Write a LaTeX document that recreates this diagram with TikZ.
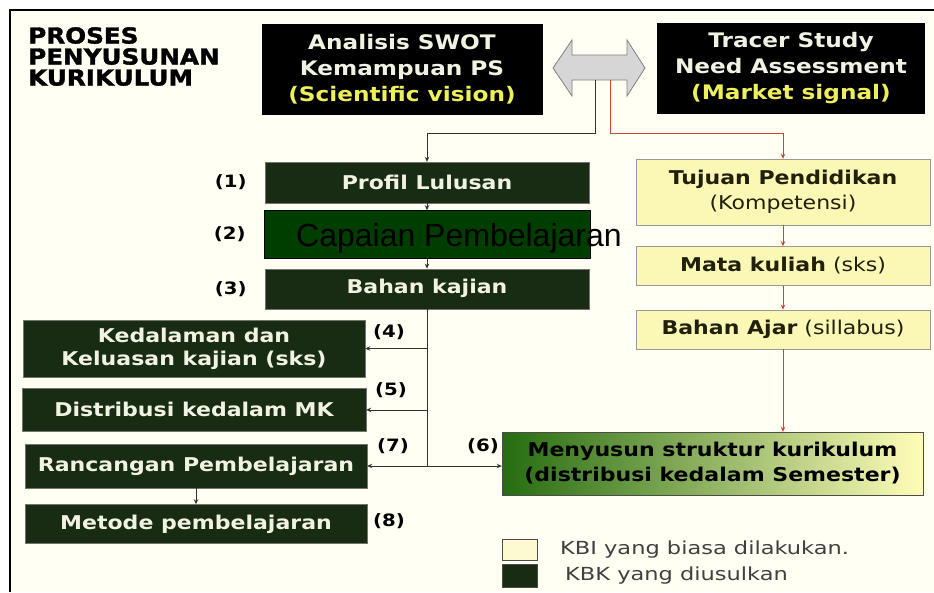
\documentclass[tikz,border=0pt]{standalone}
\usepackage{fontspec}
\newfontfamily\vfont[FakeStretch=1.16]{DejaVu Sans}
\newfontfamily\tfont[FakeStretch=1.12, RawFeature={embolden=1.6}]{DejaVu Sans Bold}
\newfontfamily\lgfont[FakeStretch=1.25]{DejaVu Sans}
\newfontfamily\arfont{Liberation Sans}
\usetikzlibrary{arrows.meta,positioning}
\definecolor{cream}{RGB}{255,255,243}
\definecolor{kbkgreen}{RGB}{24,44,20}
\definecolor{cpgreen}{RGB}{0,62,0}
\definecolor{kbiyellow}{RGB}{251,247,180}
\definecolor{kbitext}{RGB}{32,32,12}
\definecolor{boxwhite}{RGB}{242,242,228}
\definecolor{visyellow}{RGB}{238,240,90}
\definecolor{redline}{RGB}{205,70,50}
\definecolor{menygreen}{RGB}{38,108,16}
\definecolor{menymid}{RGB}{200,208,70}
\definecolor{menyyellow}{RGB}{255,253,185}

\begin{document}
\begin{tikzpicture}[x=1pt, y=-1pt, node distance=7pt,
		every node/.style={inner sep=0pt},
		kbk/.style={draw=black!55, fill=kbkgreen, text=boxwhite, font=\vfont\bfseries\fontsize{19}{23}\selectfont, minimum width=342pt, align=center},
		kbi/.style={draw=black!40, fill=kbiyellow, text=kbitext, font=\vfont\fontsize{19}{25}\selectfont, minimum width=294pt, minimum height=39pt, align=center},
		src/.style={fill=black, text=boxwhite, font=\vfont\bfseries\fontsize{20}{26}\selectfont, align=center, minimum height=91pt},
		lbl/.style={font=\vfont\bfseries\fontsize{17}{20}\selectfont},
		lgtext/.style={anchor=west, text=black!75, font=\lgfont\fontsize{18}{20}\selectfont},
		ln/.style={line width=0.8pt, draw=black!80},
		arr/.style={ln, -{Stealth[length=5pt,width=4.5pt]}},
		rarr/.style={arr, draw=redline}]
	\useasboundingbox (0,0) rectangle (934,592);
	\clip (0,0) rectangle (934,592);
	\fill[white] (0,0) rectangle (934,592);
	\fill[cream] (10,10) rectangle (934,592);
	\draw[line width=1.6pt] (10,592) -- (10,10) -- (934,10);

	% title and sources
	\node[anchor=north west, align=left, font=\tfont\fontsize{22}{21}\selectfont] (title) at (28,27) {PROSES\\PENYUSUNAN\\KURIKULUM};
	\node[src, minimum width=281pt] (swot) at (402,69) {Analisis SWOT\\Kemampuan PS\\\textcolor{visyellow}{(Scientific vision)}};
	\node[src, minimum width=268pt] (tracer) at (791,68) {Tracer Study\\Need Assessment\\\textcolor{visyellow}{(Market signal)}};
	\draw[draw=black!50, fill=black!16, line width=0.8pt] (553,68) -- (572,40) -- (572,55) -- (627,55) -- (627,40) -- (645,68) -- (627,96) -- (627,80) -- (572,80) -- (572,96) -- cycle;
	\coordinate (blk) at (595,80);
	\coordinate (red) at (610,80);

	% KBK column
	\node[kbk, minimum width=324pt, minimum height=41pt] (profil) at (427,182.5) {Profil Lulusan};
	\node[kbk, minimum width=326pt, minimum height=48pt, fill=cpgreen, draw=black, below=7pt of profil] (capaian) {};
	\node[kbk, minimum width=324pt, minimum height=40pt, below=10pt of capaian] (bahan) {Bahan kajian};
	\node[anchor=base west, text=black, font=\arfont\fontsize{32}{36}\selectfont] (cptxt) at (296,246) {Capaian Pembelajaran};
	\node[lbl, left=18pt of profil] (n1) {(1)};
	\node[lbl, left=18pt of capaian] (n2) {(2)};
	\node[lbl, left=18pt of bahan] (n3) {(3)};

	\node[kbk, minimum height=57pt] (kedal) at (194,348.5) {Kedalaman dan\\Keluasan kajian (sks)};
	\node[kbk, minimum width=344pt, minimum height=43pt, below=11pt of kedal] (distr) {Distribusi kedalam MK};
	\node[kbk, minimum height=44pt] (ranc) at (196,466) {Rancangan Pembelajaran};
	\node[kbk, minimum height=39pt, below=16pt of ranc] (metode) {Metode pembelajaran};
	\node[lbl] (n4) at (389,332) {(4)};
	\node[lbl] (n5) at (391,390) {(5)};
	\node[lbl] (n7) at (393,446) {(7)};
	\node[lbl] (n8) at (389,521) {(8)};
	\node[lbl] (n6) at (483,446) {(6)};

	% KBI column
	\node[kbi, minimum height=66pt] (tujuan) at (783,192) {\textbf{Tujuan Pendidikan}\\(Kompetensi)};
	\node[kbi, below=21pt of tujuan] (mata) {\textbf{Mata kuliah} (sks)};
	\node[kbi, below=24pt of mata] (ajar) {\textbf{Bahan Ajar} (sillabus)};
	\node[draw=black!70, left color=menygreen, middle color=menymid, right color=menyyellow, minimum width=421pt, minimum height=63pt, align=center, text=black, font=\vfont\bfseries\fontsize{19}{25}\selectfont] (meny) at (712.5,463.5) {Menyusun struktur kurikulum\\(distribusi kedalam Semester)};

	% legend
	\node[draw=black!70, fill=kbiyellow!60!white, minimum width=35pt, minimum height=21pt] (lgkbi) at (519.5,549.5) {};
	\node[draw=black!70, fill=kbkgreen, minimum width=35pt, minimum height=23pt] (lgkbk) at (519.5,575.5) {};
	\node[lgtext] (tkbi) at (560,550) {KBI yang biasa dilakukan.};
	\node[lgtext] (tkbk) at (565,576) {KBK yang diusulkan};

	% connectors
	\draw[arr] (blk) -- ++(0,53) -| (profil.north);
	\draw[rarr] (red) -- ++(0,53) -| (tujuan.north);
	\foreach \a/\b in {profil/capaian, capaian/bahan, ranc/metode} \draw[arr] (\a) -- (\b);
	\foreach \a/\b in {tujuan/mata, mata/ajar} \draw[rarr] (\a) -- (\b);
	\draw[rarr] (ajar.south) -- (ajar.south |- meny.north);
	\draw[ln] (bahan.south) -- (bahan.south |- ranc.east);
	\foreach \b in {kedal, distr} \draw[arr] (bahan.south |- \b.east) -- (\b.east);
	\draw[arr, {Stealth[length=5pt,width=4.5pt]}-{Stealth[length=5pt,width=4.5pt]}] (ranc.east) -- (ranc.east -| meny.west);
\end{tikzpicture}
\end{document}
